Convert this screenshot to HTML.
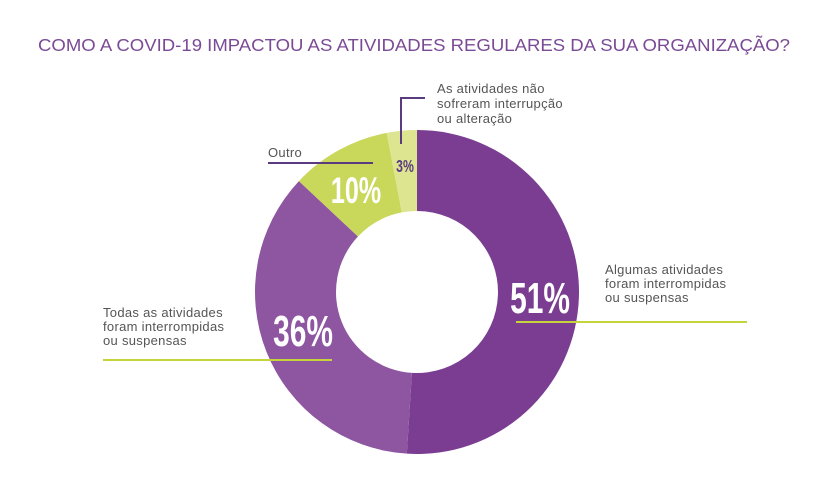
<!DOCTYPE html>
<html><head><meta charset="utf-8"><style>
body{margin:0;background:#fff;}
svg{display:block;}
text{font-family:"Liberation Sans",sans-serif;}
.lbl{font-size:13px;fill:#555;letter-spacing:0.3px;}
.big{font-family:"Liberation Sans Narrow","Liberation Sans",sans-serif;font-weight:bold;fill:#fff;}
</style></head><body>
<svg id="chart" width="840" height="486">
<text x="38" y="51" font-size="17.5" fill="#7b4a96" textLength="752" lengthAdjust="spacingAndGlyphs">COMO A COVID-19 IMPACTOU AS ATIVIDADES REGULARES DA SUA ORGANIZAÇÃO?</text>
<g id="slices"></g>
<g>
<line x1="103" y1="360" x2="332" y2="360" stroke="#c5d43a" stroke-width="2"/>
<line x1="516" y1="322" x2="747" y2="322" stroke="#c5d43a" stroke-width="2"/>
<line x1="268" y1="163" x2="373" y2="163" stroke="#5b3b80" stroke-width="2"/>
<polyline points="425,98 401,98 401,144" fill="none" stroke="#5b3b80" stroke-width="2"/>
<text class="lbl"><tspan x="103" y="317">Todas as atividades</tspan><tspan x="103" y="331">foram interrompidas</tspan><tspan x="103" y="345">ou suspensas</tspan></text>
<text class="lbl"><tspan x="605" y="274">Algumas atividades</tspan><tspan x="605" y="288">foram interrompidas</tspan><tspan x="605" y="302">ou suspensas</tspan></text>
<text class="lbl" x="268" y="157">Outro</text>
<text class="lbl"><tspan x="437" y="93">As atividades não</tspan><tspan x="437" y="108">sofreram interrupção</tspan><tspan x="437" y="123">ou alteração</tspan></text>
</g>
</svg>
<script>
const categories=["Algumas atividades foram interrompidas ou suspensas","Todas as atividades foram interrompidas ou suspensas","Outro","As atividades não sofreram interrupção ou alteração"];
const values=[51,36,10,3];
const valueLabels=["51%","36%","10%","3%"];
const colors=["#7a3d91","#8e55a1","#c9d75b","#dde591"];
const cx=417,cy=292,R=162,r=81;
const g=document.getElementById('slices');
const ns="http://www.w3.org/2000/svg";
const total=values.reduce((a,b)=>a+b,0);
function pt(a,rad){return [cx+rad*Math.sin(a),cy-rad*Math.cos(a)];}
const labelPos=[[540,313,44],[303,346,44],[356,203,37],[405,172,18]];
let acc=0;
values.forEach((v,i)=>{
 const a0=acc/total*2*Math.PI; acc+=v; const a1=acc/total*2*Math.PI;
 const lg=(a1-a0)>Math.PI?1:0;
 const [x0,y0]=pt(a0,R),[x1,y1]=pt(a1,R),[x2,y2]=pt(a1,r),[x3,y3]=pt(a0,r);
 const p=document.createElementNS(ns,'path');
 p.setAttribute('d',`M${x0},${y0}A${R},${R} 0 ${lg} 1 ${x1},${y1}L${x2},${y2}A${r},${r} 0 ${lg} 0 ${x3},${y3}Z`);
 p.setAttribute('fill',colors[i]);
 
 
 g.appendChild(p);
});
valueLabels.forEach((t,i)=>{
 const [x,y,fs]=labelPos[i];
 const tx=document.createElementNS(ns,'text');
 tx.setAttribute('x',x);tx.setAttribute('y',y);tx.setAttribute('text-anchor','middle');
 tx.setAttribute('class','big');tx.setAttribute('font-size',fs);
 if(i===3)tx.setAttribute('style','fill:#5b3b80');
 tx.setAttribute('transform',`translate(${x},${y}) scale(0.68,1) translate(${-x},${-y})`);
 tx.textContent=t;
 
 
 g.appendChild(tx);
});
</script>
</body></html>
